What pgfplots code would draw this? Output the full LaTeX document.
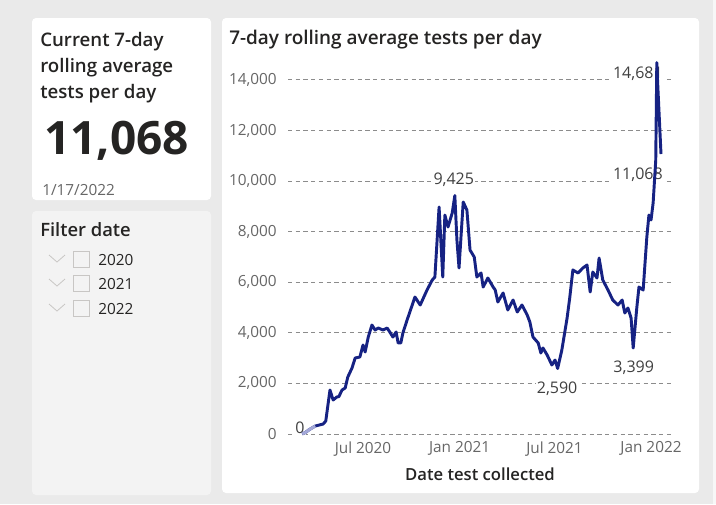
\documentclass[border=0pt]{standalone}
\usepackage{pgfplots}
\pgfplotsset{compat=1.18}
\usepackage{fontspec}
\setmainfont{Open Sans}
\IfFontExistsTF{Open Sans Semibold}{\newfontfamily\semib{Open Sans Semibold}}{\newfontfamily\semib{Open Sans}[FakeBold=1.2]}
\definecolor{bg}{HTML}{EAEAEA}
\definecolor{cardtwo}{HTML}{F3F3F3}
\definecolor{navy}{HTML}{162283}
\definecolor{txt}{HTML}{252423}
\definecolor{gtxt}{HTML}{666666}
\definecolor{lbl}{HTML}{404040}
\definecolor{gridc}{HTML}{8C8C8C}
\definecolor{lav}{HTML}{A3A8D8}
\definecolor{boxc}{HTML}{C8C6C4}
\begin{document}
\begin{tikzpicture}
\begin{scope}[x=0.75pt,y=-0.75pt]
\fill[bg] (0,0) rectangle (716,504);
\fill[black!3] (713,0) rectangle (716,504);
\fill[white,rounded corners=3pt] (32,18) rectangle (211,200);
\fill[cardtwo,rounded corners=3pt] (32,211) rectangle (211,495);
\fill[white,rounded corners=3pt] (222,18) rectangle (699,493);
\node[anchor=base west,inner sep=0,text=txt,font=\semib\fontsize{14}{16}\selectfont] at (40,46) {Current 7-day};
\node[anchor=base west,inner sep=0,text=txt,font=\semib\fontsize{14}{16}\selectfont] at (40,72) {rolling average};
\node[anchor=base west,inner sep=0,text=txt,font=\semib\fontsize{14}{16}\selectfont] at (40,98) {tests per day};
\node[anchor=base west,inner sep=0,text=txt,font=\fontsize{34.5}{40}\bfseries\selectfont] at (44,154) {11,068};
\node[anchor=base west,inner sep=0,text=gtxt,font=\fontsize{11.5}{13}\selectfont] at (42,195) {1/17/2022};
\node[anchor=base west,inner sep=0,text=txt,font=\semib\fontsize{13.8}{16}\selectfont] at (40,236) {Filter date};
\foreach \yy/\lab in {259/2020,283/2021,308/2022}{
  \draw[boxc,line width=0.6pt] (49,\yy-4) -- (57,\yy+3) -- (65,\yy-4);
  \draw[boxc,line width=0.6pt] (73,\yy-8) rectangle (89,\yy+8);
  \node[anchor=base west,inner sep=0,text=txt,font=\fontsize{11.5}{13}\selectfont] at (98,\yy+6) {\lab};
}
\node[anchor=base west,inner sep=0,text=txt,font=\semib\fontsize{14.2}{16}\selectfont] at (229,44) {7-day rolling average tests per day};
\end{scope}
\begin{axis}[
  at={(216pt,-325.5pt)}, anchor=south west,
  scale only axis, width=288pt, height=284.6pt,
  xmin=39, xmax=771, ymin=0, ymax=15000,
  clip=false,
  axis x line*=bottom, axis y line*=left,
  axis line style={draw=none},
  major tick length=0pt,
  ymajorgrids,
  grid style={gridc, dash pattern=on 3.2pt off 2.6pt, line width=0.7pt},
  ytick={0,2000,4000,6000,8000,10000,12000,14000},
  xtick={182,366,547,731},
  xticklabels={Jul 2020,Jan 2021,Jul 2021,Jan 2022},
  /pgf/number format/assume math mode=true,
  /pgf/number format/1000 sep={,},
  scaled y ticks=false,
  yticklabel style={text=gtxt,font=\fontsize{11.5}{13}\selectfont, xshift=-5pt},
  xticklabel style={text=gtxt,font=\fontsize{11.5}{13}\selectfont, yshift=-2pt},
  xlabel={Date test collected},
  xlabel style={text=txt,font=\semib\fontsize{12.5}{14}\selectfont, yshift=-2pt},
]
\node[fill=white,inner sep=1pt,text=lbl,font=\fontsize{12}{13}\selectfont] at (axis cs:62,237) {0};
\node[fill=white,inner sep=1pt,text=lbl,font=\fontsize{12}{13}\selectfont] at (axis cs:355,10040) {9,425};
\node[fill=white,inner sep=1pt,text=lbl,font=\fontsize{12}{13}\selectfont] at (axis cs:552,1779) {2,590};
\node[fill=white,inner sep=1pt,text=lbl,font=\fontsize{12}{13}\selectfont] at (axis cs:698,2609) {3,399};
\node[fill=white,inner sep=1pt,text=lbl,font=\fontsize{12}{13}\selectfont] at (axis cs:706,14231) {14,681};
\node[fill=white,inner sep=1pt,text=lbl,font=\fontsize{12}{13}\selectfont] at (axis cs:706,10238) {11,068};
\addplot[navy, line width=2.2pt, line join=round, mark=none] coordinates {
(66,0)(72,60)(80,180)(91,316)(106,395)(111,514)(119,1740)(125,1344)(132,1462)(136,1480)
(142,1740)(148,1818)(153,2253)(161,2609)(167,3004)(176,3044)(182,3518)(186,3241)(192,3834)
(199,4309)(205,4111)(211,4190)(220,4111)(228,4190)(233,4032)(239,3834)(245,4032)(249,3597)
(254,3597)(258,3992)(266,4506)(281,5415)(291,5099)(304,5692)(314,6088)(319,6206)(327,8973)
(334,6206)(338,8657)(344,8183)(352,8736)(357,9425)(361,7668)(365,6562)(373,9171)(380,8855)
(386,7273)(394,6997)(399,6206)(407,6364)(411,5811)(420,6167)(430,5811)(434,5692)(439,5218)
(449,5574)(458,4902)(468,5297)(476,4823)(485,5099)(495,4704)(500,4427)(506,3834)(516,3597)
(521,3202)(525,3400)(533,3123)(542,2728)(548,2925)(553,2590)(561,3321)(571,4585)(576,5376)
(582,6483)(592,6364)(601,6562)(609,6681)(615,5613)(620,6404)(628,6167)(632,6957)(639,6088)
(649,5692)(658,5297)(668,5099)(676,5297)(681,4783)(687,4981)(693,4586)(697,3399)(704,5020)
(708,5811)(716,5692)(723,7787)(727,8657)(731,8459)(735,9132)(740,10831)(742,14681)(744,13717)
(750,11068)
};
\addplot[lav, line width=2.2pt, line join=round, mark=none] coordinates {
(66,0)(72,60)(80,180)(91,316)
};
\end{axis}
\end{tikzpicture}
\end{document}
